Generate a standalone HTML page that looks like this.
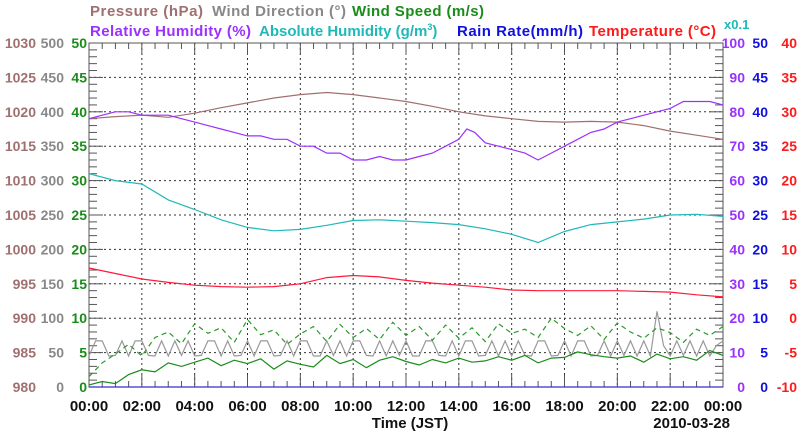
<!DOCTYPE html>
<html><head><meta charset="utf-8"><style>
body{margin:0;background:#fff}
svg{display:block;font-family:"Liberation Sans",Arial,sans-serif;font-weight:bold}
</style></head><body>
<svg id="c" width="800" height="434" viewBox="0 0 800 434">
<g font-size="15">
<text x="90" y="16" fill="#a07070" textLength="113">Pressure (hPa)</text>
<text x="212" y="16" fill="#888" textLength="134">Wind Direction (°)</text>
<text x="352" y="16" fill="#1a8c1a" textLength="132">Wind Speed (m/s)</text>
</g>
<g font-size="15">
<text x="90" y="36" fill="#9b30ff" textLength="161">Relative Humidity (%)</text>
<text x="259" y="36" fill="#20b8b8">Absolute Humidity (g/m<tspan font-size="9" dy="-6">3</tspan><tspan dy="6">)</tspan></text>
<text x="457" y="36" fill="#1010e0" textLength="126">Rain Rate(mm/h)</text>
<text x="589" y="36" fill="#ff1a1a" textLength="127">Temperature (°C)</text>
<text x="724" y="29" fill="#20b8b8" font-size="13">x0.1</text>
</g>
<g id="grid"></g>
<g id="axes"></g>
<g id="series"></g>
<text x="410" y="428" text-anchor="middle" font-size="15" fill="#111">Time (JST)</text>
<text x="730" y="428" text-anchor="end" font-size="15" fill="#111">2010-03-28</text>
</svg>
<script>
const pressHours=[0,1,2,3,4,5,6,7,8,9,10,11,12,13,14,15,16,17,18,19,20,21,22,23,24];
const pressure=[1019,1019.3,1019.5,1019.2,1019.8,1020.6,1021.3,1022,1022.5,1022.8,1022.5,1022,1021.5,1020.8,1020,1019.4,1019,1018.6,1018.5,1018.6,1018.5,1018,1017.2,1016.6,1016];
const rhHours=[0,0.5,1,1.5,2,2.5,3,3.5,4,4.5,5,5.5,6,6.5,7,7.5,8,8.5,9,9.5,10,10.5,11,11.5,12,12.5,13,13.5,14,14.3,14.6,15,15.5,16,16.5,17,17.5,18,18.5,19,19.5,20,20.5,21,21.5,22,22.5,23,23.5,24];
const relHum=[78,79,80,80,79,79,79,78,77,76,75,74,73,73,72,72,70,70,68,68,66,66,67,66,66,67,68,70,72,75,74,71,70,69,68,66,68,70,72,74,75,77,78,79,80,81,83,83,83,82];
const ahHours=[0,1,2,3,4,5,6,7,8,9,10,11,12,13,14,15,16,17,18,19,20,21,22,23,24];
const absHum=[31,30,29.5,27.2,25.8,24.3,23.2,22.7,22.9,23.5,24.2,24.3,24.1,23.9,23.6,23,22.2,21,22.6,23.6,24,24.4,25,25.1,24.8];
const tempHours=[0,1,2,3,4,5,6,7,8,9,10,11,12,13,14,15,16,17,18,19,20,21,22,23,24];
const temperature=[7.3,6.5,5.7,5.2,4.8,4.6,4.5,4.6,5,5.9,6.2,6,5.5,5.1,4.8,4.5,4.1,4,4,4,4,3.9,3.8,3.4,3.1];
const windAvg=[0.3,0.8,0.5,1.8,2.5,2.2,3.5,3,3.6,4.2,3.1,3.9,3.4,4.1,2.6,3.8,3.3,2.9,4.6,3.4,4,2.8,3.9,4.4,3.7,3.2,4,3.5,4.2,3.6,3.8,4.4,3.9,4.6,3.5,4.2,4.3,5.1,4.7,4.4,4.2,4.5,3.6,4.8,4.1,4.4,3.9,5.3,4.6];
const windMax=[1.5,3.5,4.8,6.2,4.5,7.2,8,6.3,9.2,7.8,8.6,6.5,9.8,7.6,8.3,6.2,7.7,8.8,6.6,9.1,7.2,8.5,6.9,9.4,7.5,8.8,6.8,9,7.1,8.6,6.6,9.2,7.8,8.4,7.2,10,8.5,7.5,8.9,6.9,9.3,8,7.1,8.6,7.9,6.5,8.4,7.5,8.8];
const windDir=[45,67,67,45,46,67,45,67,67,46,45,67,45,67,46,67,45,46,67,67,45,67,45,46,67,45,67,67,45,46,67,45,67,67,45,45,67,46,67,45,67,67,46,45,67,45,67,46,67,45,45,67,67,46,45,67,45,67,67,45,46,67,45,67,45,67,46,45,67,67,45,46,67,45,67,67,45,46,67,45,67,46,67,45,67,45,110,60,45,67,46,67,45,67,45,60,67];
const rainRate=[0,0];
const xTicks=["00:00","02:00","04:00","06:00","08:00","10:00","12:00","14:00","16:00","18:00","20:00","22:00","00:00"];
const pressTicks=[980,985,990,995,1000,1005,1010,1015,1020,1025,1030];
const dirTicks=[0,50,100,150,200,250,300,350,400,450,500];
const speedTicks=[0,5,10,15,20,25,30,35,40,45,50];
const rhTicks=[0,10,20,30,40,50,60,70,80,90,100];
const rainTicks=[0,5,10,15,20,25,30,35,40,45,50];
const tempTicks=[-10,-5,0,5,10,15,20,25,30,35,40];

const L=89,R=723,T=43,B=387,NS="http://www.w3.org/2000/svg";
const xs=h=>L+(R-L)*h/24;
const lin=(a,b)=>v=>B-(B-T)*(v-a)/(b-a);
const yP=lin(980,1030),yD=lin(0,500),yS=lin(0,50),yRH=lin(0,100),yRain=lin(0,50),yT=lin(-10,40);
function mk(tag,attrs,parent){const e=document.createElementNS(NS,tag);for(const k in attrs)e.setAttribute(k,attrs[k]);parent.appendChild(e);return e;}
const grid=document.getElementById('grid'),axes=document.getElementById('axes'),ser=document.getElementById('series');
mk('rect',{x:L,y:T,width:R-L,height:B-T,fill:'none',stroke:'#555','stroke-width':1},axes);
for(let i=1;i<12;i++){const l=mk('line',{x1:xs(i*2),x2:xs(i*2),y1:T,y2:B,stroke:'#333','stroke-dasharray':'2,3','stroke-width':1},grid);

}
for(let i=1;i<10;i++){const y=T+(B-T)*i/10;const l=mk('line',{x1:L,x2:R,y1:y,y2:y,stroke:'#333','stroke-dasharray':'2,3','stroke-width':1},grid);

}
for(let i=0;i<=50;i++){const y=T+(B-T)*i/50,len=i%5?8:14;
mk('line',{x1:L,x2:L+len,y1:y,y2:y,stroke:'#555'},axes);mk('line',{x1:R,x2:R-len,y1:y,y2:y,stroke:'#555'},axes);}
for(let i=0;i<=48;i++){const x=xs(i/2),len=i%4?6:12;mk('line',{x1:x,x2:x,y1:B,y2:B-len,stroke:'#555'},axes);mk('line',{x1:x,x2:x,y1:T,y2:T+len,stroke:'#555'},axes);}
function lab(x,y,t,c,anchor,name,fs){const e=mk('text',{x:x,y:y,fill:c,'font-size':fs||15,'text-anchor':anchor},axes);e.textContent=t;

}
for(let i=0;i<11;i++){const y=B-(B-T)*i/10+5;
lab(36,y,pressTicks[i],'#a07070','end','pressure-tick',14);
lab(64,y,dirTicks[i],'#888','end','direction-tick',14);
lab(87,y,speedTicks[i],'#1a8c1a','end','speed-tick',14);
lab(745,y,rhTicks[i],'#9b30ff','end','rh-tick',14);
lab(768,y,rainTicks[i],'#1010e0','end','rain-tick',14);
lab(797,y,tempTicks[i],'#ff1a1a','end','temp-tick',14);}
xTicks.forEach((t,i)=>lab(xs(i*2),411,t,'#111','middle','x-tick'));
function line(hours,vals,yf,color,name,extra){const d=vals.map((v,i)=>(i?'L':'M')+xs(hours[i]).toFixed(1)+','+yf(v).toFixed(1)).join('');
const p=mk('path',Object.assign({d:d,fill:'none',stroke:color,'stroke-width':1.2},extra||{}),ser);

}
const wh=windAvg.map((_,i)=>i/2);
const dh=windDir.map((_,i)=>i/4);
line(dh,windDir,yD,'#999','wind-direction-line');
line(wh,windMax,yS,'#2a9a2a','wind-gust-line',{'stroke-dasharray':'5,4'});
line(wh,windAvg,yS,'#1a8c1a','wind-speed-line');
line([0,24],rainRate,yRain,'#3030d0','rain-rate-line');
line(pressHours,pressure,yP,'#a07070','pressure-line');
line(rhHours,relHum,yRH,'#9b30ff','relative-humidity-line');
line(ahHours,absHum,yS,'#20b8b8','absolute-humidity-line');
line(tempHours,temperature,yT,'#ff1a3a','temperature-line');
</script>
</body></html>
